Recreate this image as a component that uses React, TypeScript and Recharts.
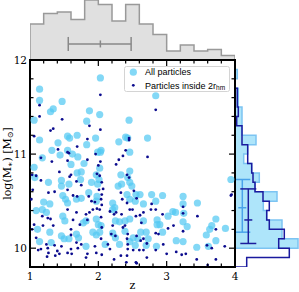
import React from 'react';
import { ComposedChart, ScatterChart, Scatter, Area, XAxis, YAxis, ErrorBar, Legend } from 'recharts';

// ---------- top histogram (redshift) ----------
const zBinStarts = [1.0, 1.2, 1.4, 1.6, 1.8, 2.0, 2.2, 2.4, 2.6, 2.8, 3.0, 3.2, 3.4, 3.6, 3.8];
const zBinCounts = [24, 31, 32, 27, 40, 37, 26, 37, 24, 17, 6, 10, 6, 7, 3];
const zRangeStart = 1.0;
const zRangeEnd = 4.0;
const zErrCenter = [2.03];
const zErrLevel = [10.7];
const zErrLow = [0.47];
const zErrHigh = [0.45];

// ---------- right histogram (stellar mass) ----------
const mBinStarts = [9.8, 9.9, 10.0, 10.1, 10.2, 10.3, 10.4, 10.5, 10.6, 10.7, 10.8, 10.9, 11.0, 11.1, 11.2, 11.3, 11.4, 11.5, 11.6, 11.7, 11.8];
const mAllCounts = [0, 0, 63, 47, 47, 31.7, 28.3, 42, 20, 24.3, 16.7, 8.7, 12.7, 21, 7, 7, 7, 3.3, 3.3, 0, 2.3];
const mInsideCounts = [11.7, 54.3, 43.7, 49.3, 34.3, 31.7, 34.3, 28, 20, 18, 16.7, 12.7, 12.7, 7, 7, 1.7, 3.3, 2.3, 2.3, 0, 0];
const mRangeEnd = 11.9;
const mErrCenter = [10.43, 10.30];
const mErrPos = [7.3, 13.3];
const mErrLow = [0.26, 0.25];
const mErrHigh = [0.30, 0.33];

// ---------- main scatter ----------
const allZ = [2.03, 1.14, 1.14, 1.47, 1.34, 1.30, 1.87, 2.02, 1.06, 1.83, 2.45, 1.55, 1.58, 1.69, 1.14, 1.96, 1.41, 1.83, 2.30, 2.40,
  2.43, 1.32, 1.55, 2.04, 2.03, 1.44, 1.62, 1.70, 1.18, 1.99, 2.46, 2.84, 2.72, 3.94, 2.46, 2.49, 2.55, 2.61, 2.78, 2.94,
  3.24, 2.84, 2.66, 3.24, 3.45, 3.09, 3.13, 3.25, 3.02, 2.66, 2.86, 2.90, 2.86, 3.24, 3.30, 3.72, 3.86, 3.66, 3.63, 2.62,
  2.70, 2.94, 3.58, 2.51, 2.58, 2.73, 3.14, 3.24, 3.72, 2.54, 2.70, 2.85, 3.44, 3.61, 2.54, 1.06, 1.60, 1.79, 1.69, 1.75,
  2.02, 1.97, 2.33, 2.46, 2.43, 1.07, 1.27, 1.46, 1.46, 1.57, 1.74, 1.90, 1.99, 2.01, 2.29, 2.34, 1.86, 1.20, 1.48, 1.52,
  1.68, 1.55, 1.75, 1.98, 1.97, 2.21, 2.24, 2.42, 2.46, 1.18, 1.24, 1.48, 1.51, 1.78, 1.82, 1.97, 2.00, 2.04, 2.21, 2.25,
  2.31, 2.39, 2.46, 1.11, 1.29, 1.46, 1.50, 1.57, 1.68, 1.71, 1.92, 1.97, 2.02, 2.21, 2.25, 2.39, 1.14, 1.31, 1.82, 2.10,
  2.31, 2.46, 1.09, 1.29];
const allM = [11.81, 11.69, 11.57, 11.56, 11.48, 11.45, 11.46, 11.42, 11.36, 11.35, 11.36, 11.19, 11.17, 11.20, 11.15, 11.17, 11.12, 11.10, 11.13, 11.18,
  11.17, 11.04, 11.04, 11.04, 11.02, 10.99, 11.00, 10.97, 10.96, 11.02, 11.02, 11.62, 11.17, 10.73, 10.70, 10.66, 10.57, 10.57, 10.57, 10.56,
  10.55, 10.50, 10.47, 10.47, 10.48, 10.39, 10.38, 10.37, 10.34, 10.29, 10.30, 10.25, 10.25, 10.28, 10.23, 10.31, 10.21, 10.24, 10.20, 10.17,
  10.17, 10.17, 10.14, 10.11, 10.10, 10.10, 10.08, 10.07, 10.08, 10.03, 10.03, 10.02, 10.01, 10.02, 10.50, 10.86, 10.89, 10.90, 10.80, 10.81,
  10.85, 10.78, 10.78, 10.82, 10.75, 10.75, 10.70, 10.72, 10.66, 10.68, 10.73, 10.70, 10.68, 10.73, 10.66, 10.68, 10.59, 10.49, 10.56, 10.52,
  10.52, 10.48, 10.53, 10.55, 10.50, 10.48, 10.43, 10.57, 10.52, 10.41, 10.38, 10.34, 10.29, 10.27, 10.29, 10.31, 10.25, 10.24, 10.41, 10.29,
  10.28, 10.29, 10.31, 10.20, 10.17, 10.13, 10.10, 10.10, 10.15, 10.11, 10.17, 10.14, 10.17, 10.16, 10.11, 10.18, 10.07, 10.06, 10.02, 10.04,
  10.04, 10.07, 10.40, 10.47];

const inZ = [2.03, 1.14, 1.14, 1.47, 1.87, 1.30, 1.34, 2.03, 1.06, 1.84, 2.45, 2.45, 1.69, 1.41, 1.55, 1.57, 2.40, 2.36, 2.30, 1.16,
  1.84, 1.96, 2.03, 1.32, 1.55, 2.84, 2.72, 3.94, 2.52, 3.95, 2.56, 2.78, 2.77, 2.84, 2.50, 3.24, 2.66, 2.94, 2.61, 2.55,
  3.24, 3.45, 2.63, 3.10, 3.02, 3.24, 3.72, 2.84, 2.88, 2.56, 2.66, 2.62, 2.71, 2.95, 3.59, 3.66, 3.85, 2.51, 2.60, 2.66,
  2.84, 3.14, 3.00, 3.22, 3.28, 2.71, 3.44, 3.72, 2.56, 3.60, 1.43, 1.60, 1.58, 2.00, 2.26, 1.03, 1.09, 1.16, 1.68, 1.75,
  1.98, 2.02, 2.05, 2.01, 2.42, 2.45, 2.33, 1.04, 1.27, 1.36, 1.55, 1.63, 1.69, 1.86, 1.90, 1.95, 1.98, 2.02, 2.07, 2.05,
  2.04, 2.05, 2.04, 2.05, 2.04, 2.35, 2.42, 2.46, 1.18, 1.26, 1.30, 1.19, 1.03, 1.34, 1.55, 1.68, 1.63, 1.60, 1.60, 1.73,
  1.82, 1.87, 1.92, 1.84, 2.17, 2.23, 2.26, 2.34, 2.21, 2.19, 2.25, 2.36, 2.39, 2.43, 2.42, 2.43, 2.43, 2.42, 1.09, 1.16,
  1.12, 1.24, 1.26, 1.27, 1.25, 1.36, 1.40, 1.43, 1.46, 1.55, 1.60, 1.61, 1.68, 1.75, 1.70, 1.84, 1.95, 1.97, 2.14, 2.17,
  2.23, 2.33, 1.02, 1.06, 1.37, 1.82, 2.05, 2.41, 2.55];
const inM = [11.63, 11.52, 11.40, 11.37, 11.30, 11.25, 11.27, 11.26, 11.19, 11.16, 11.17, 11.15, 11.08, 11.05, 11.02, 11.01, 11.04, 10.98, 10.94, 10.96,
  10.94, 11.00, 10.92, 10.92, 10.93, 11.47, 10.97, 10.56, 10.61, 10.57, 10.53, 10.47, 10.41, 10.41, 10.41, 10.44, 10.38, 10.36, 10.35, 10.34,
  10.37, 10.34, 10.27, 10.24, 10.21, 10.18, 10.20, 10.16, 10.15, 10.13, 10.10, 10.08, 10.05, 10.04, 10.03, 10.00, 10.02, 9.98, 9.98, 9.98,
  9.98, 9.96, 9.94, 9.93, 9.94, 9.90, 9.88, 9.88, 9.84, 9.82, 10.81, 10.78, 10.76, 10.88, 10.89, 10.78, 10.77, 10.72, 10.71, 10.67,
  10.79, 10.77, 10.70, 10.62, 10.78, 10.75, 10.59, 10.62, 10.59, 10.60, 10.62, 10.56, 10.55, 10.55, 10.50, 10.49, 10.42, 10.41, 10.63, 10.57,
  10.52, 10.46, 10.33, 10.22, 10.10, 10.52, 10.48, 10.41, 10.34, 10.32, 10.31, 10.24, 10.20, 10.24, 10.41, 10.38, 10.30, 10.20, 10.14, 10.25,
  10.36, 10.38, 10.41, 10.30, 10.39, 10.36, 10.38, 10.36, 10.24, 10.15, 10.13, 10.22, 10.24, 10.15, 10.10, 10.04, 9.99, 9.92, 10.11, 9.99,
  9.98, 10.04, 10.00, 9.95, 9.91, 10.03, 9.97, 9.94, 10.02, 9.95, 9.99, 9.94, 10.06, 10.04, 10.00, 9.94, 10.02, 9.95, 10.04, 9.99,
  9.88, 9.92, 10.52, 10.25, 9.92, 9.90, 9.93, 9.85, 9.85];

const xTicks = [1, 1.2, 1.4, 1.6, 1.8, 2, 2.2, 2.4, 2.6, 2.8, 3, 3.2, 3.4, 3.6, 3.8, 4];
const yTicks = [10, 10.2, 10.4, 10.6, 10.8, 11, 11.2, 11.4, 11.6, 11.8, 12];
const xDomain = [1, 4];
const yDomain = [9.8, 12];
const legendLabels = ['All particles', 'Particles inside 2r', 'hm'];

// ---------- derived tables ----------
const topRows = [
  { z: zRangeStart, v: 0 },
  ...zBinStarts.map((z, i) => ({ z, v: zBinCounts[i] })),
  { z: zRangeEnd, v: 0 },
];
const topErrRows = zErrCenter.map((z, i) => ({ z, v: zErrLevel[i], ex: [zErrLow[i], zErrHigh[i]] }));

const rightRows = [
  { m: mBinStarts[0], all: 0, inside: 0 },
  ...mBinStarts.map((m, i) => ({ m, all: mAllCounts[i], inside: mInsideCounts[i] })),
  { m: mRangeEnd, all: 0, inside: 0 },
];
const rightErrAll = [{ m: mErrCenter[0], v: mErrPos[0], err: [mErrLow[0], mErrHigh[0]] }];
const rightErrIn = [{ m: mErrCenter[1], v: mErrPos[1], err: [mErrLow[1], mErrHigh[1]] }];

const allRows = allZ.map((z, i) => ({ z, m: allM[i] }));
const inRows = inZ.map((z, i) => ({ z, m: inM[i] }));

const SERIF = "'DejaVu Serif', serif";
const SANS = "'Liberation Sans', Arial, sans-serif";
const LIGHT = '#53c9f3';
const DARK = '#0b0b8e';

const isMajor = (v: number) => Math.abs(v - Math.round(v)) < 1e-6;

const BottomTick = (p: any) => {
  const v = p.payload.value;
  const maj = isMajor(v);
  return (
    <g>
      <line x1={p.x} x2={p.x} y1={p.y} y2={p.y - (maj ? 6 : 3.5)} stroke="#000" strokeWidth={1.2} />
      {maj && (
        <text x={p.x} y={p.y + 13} textAnchor="middle" fontFamily={SERIF} fontSize={10.5} fill="#000">{v}</text>
      )}
    </g>
  );
};
const TopTick = (p: any) => {
  const maj = isMajor(p.payload.value);
  return <line x1={p.x} x2={p.x} y1={p.y} y2={p.y + (maj ? 6 : 3.5)} stroke="#000" strokeWidth={1.2} />;
};
const LeftTick = (p: any) => {
  const v = p.payload.value;
  const maj = isMajor(v);
  return (
    <g>
      <line x1={p.x} x2={p.x + (maj ? 6 : 3.5)} y1={p.y} y2={p.y} stroke="#000" strokeWidth={1.2} />
      {maj && (
        <text x={p.x - 3} y={p.y + 3.8} textAnchor="end" fontFamily={SERIF} fontSize={10.5} fill="#000">{v}</text>
      )}
    </g>
  );
};
const RightTick = (p: any) => {
  const maj = isMajor(p.payload.value);
  return <line x1={p.x} x2={p.x - (maj ? 6 : 3.5)} y1={p.y} y2={p.y} stroke="#000" strokeWidth={1.2} />;
};

const ZLabel = (p: any) => {
  const vb = p.viewBox;
  return (
    <text x={vb.x + vb.width / 2} y={vb.y + 22} textAnchor="middle" fontFamily={SERIF} fontSize={11} fill="#000">z</text>
  );
};
const MLabel = (p: any) => {
  const vb = p.viewBox;
  const cx = vb.x + 11;
  const cy = vb.y + vb.height / 2;
  return (
    <text x={cx} y={cy} transform={`rotate(-90 ${cx} ${cy})`} textAnchor="middle" fontFamily={SERIF} fontSize={11} fill="#000">
      log(M<tspan fontSize={8} dy={2}>∗</tspan><tspan dy={-2}>) [M</tspan><tspan fontSize={8} dy={2}>⊙</tspan><tspan dy={-2}>]</tspan>
    </text>
  );
};

const LightDot = (p: any) => <circle cx={p.cx} cy={p.cy} r={3.6} fill={LIGHT} fillOpacity={0.72} />;
const DarkDot = (p: any) => <circle cx={p.cx} cy={p.cy} r={1.4} fill={DARK} />;
const VTick = (p: any) => <line x1={p.cx} x2={p.cx} y1={p.cy - 3.5} y2={p.cy + 3.5} stroke="#888" strokeWidth={1.5} />;
const HTickLight = (p: any) => <line x1={p.cx - 4} x2={p.cx + 4} y1={p.cy} y2={p.cy} stroke="#4aa3ea" strokeWidth={1.5} />;
const HTickDark = (p: any) => <line x1={p.cx - 4} x2={p.cx + 4} y1={p.cy} y2={p.cy} stroke="#1c1c9c" strokeWidth={1.5} />;

const LegendBox = () => (
  <svg width={106} height={26} style={{ display: 'block' }}>
    <rect x={0.5} y={0.5} width={105} height={25} rx={2} fill="#fff" fillOpacity={0.85} stroke="#d4d4d4" />
    <circle cx={9.3} cy={6.2} r={3.6} fill={LIGHT} fillOpacity={0.72} />
    <text x={21} y={9.4} fontFamily={SANS} fontSize={9} fill="#000">{legendLabels[0]}</text>
    <circle cx={9.3} cy={19.3} r={1.4} fill={DARK} />
    <text x={21} y={22.5} fontFamily={SANS} fontSize={9} fill="#000">
      {legendLabels[1]}<tspan fontSize={6.5} dy={1.8}>{legendLabels[2]}</tspan>
    </text>
  </svg>
);

const axisStyle = { stroke: '#000', strokeWidth: 2, strokeLinecap: 'square' as const };

export default function App() {
  return (
    <div style={{ position: 'absolute', left: 0, top: 0, width: 299, height: 292, background: '#fff', overflow: 'hidden' }}>
      {/* top marginal histogram */}
      <div style={{ position: 'absolute', left: 0, top: 0 }}>
        <ComposedChart width={299} height={60} data={topRows} margin={{ top: 0, right: 64, bottom: 0, left: 30 }}>
          <XAxis dataKey="z" type="number" domain={xDomain} hide allowDataOverflow />
          <YAxis type="number" domain={[0, 40]} hide allowDataOverflow />
          <Area dataKey="v" type="stepAfter" fill="#e0e0e0" fillOpacity={1} stroke="#999" strokeWidth={1.5}
            dot={false} activeDot={false} isAnimationActive={false} />
          <Scatter data={topErrRows} dataKey="v" shape={VTick} isAnimationActive={false}>
            <ErrorBar dataKey="ex" direction="x" width={7} stroke="#888" strokeWidth={1.5} />
          </Scatter>
        </ComposedChart>
      </div>

      {/* right marginal histogram */}
      <div style={{ position: 'absolute', left: 235, top: 0 }}>
        <ComposedChart layout="vertical" width={64} height={292} data={rightRows} margin={{ top: 60, right: 0, bottom: 25, left: 0 }}>
          <XAxis type="number" domain={[0, 64]} hide allowDataOverflow />
          <YAxis type="number" dataKey="m" domain={yDomain} reversed hide allowDataOverflow />
          <Area dataKey="all" type="stepBefore" fill="#aee5fa" fillOpacity={1} stroke="#7cc4f2" strokeWidth={1.5}
            dot={false} activeDot={false} isAnimationActive={false} />
          <Area dataKey="inside" type="stepBefore" fill="none" fillOpacity={0} stroke="#1a1a9e" strokeWidth={1.5}
            dot={false} activeDot={false} isAnimationActive={false} />
          <Scatter data={rightErrAll} dataKey="v" shape={HTickLight} isAnimationActive={false}>
            <ErrorBar dataKey="err" direction="y" width={8} stroke="#4aa3ea" strokeWidth={1.5} />
          </Scatter>
          <Scatter data={rightErrIn} dataKey="v" shape={HTickDark} isAnimationActive={false}>
            <ErrorBar dataKey="err" direction="y" width={8} stroke="#1c1c9c" strokeWidth={1.5} />
          </Scatter>
        </ComposedChart>
      </div>

      {/* main scatter */}
      <div style={{ position: 'absolute', left: 0, top: 0 }}>
        <ScatterChart width={299} height={292} margin={{ top: 30, right: 34, bottom: 0, left: 0 }}>
          <XAxis xAxisId="b" type="number" dataKey="z" domain={xDomain} ticks={xTicks} interval={0} allowDataOverflow
            tick={BottomTick} tickLine={false} tickSize={0} tickMargin={0} height={25} axisLine={axisStyle} label={ZLabel} />
          <XAxis xAxisId="t" orientation="top" type="number" dataKey="z" domain={xDomain} ticks={xTicks} interval={0} allowDataOverflow
            tick={TopTick} tickLine={false} tickSize={0} tickMargin={0} height={30} axisLine={axisStyle} />
          <YAxis yAxisId="l" type="number" dataKey="m" domain={yDomain} ticks={yTicks} interval={0} allowDataOverflow
            tick={LeftTick} tickLine={false} tickSize={0} tickMargin={0} width={30} axisLine={axisStyle} label={MLabel} />
          <YAxis yAxisId="r" orientation="right" type="number" dataKey="m" domain={yDomain} ticks={yTicks} interval={0} allowDataOverflow
            tick={RightTick} tickLine={false} tickSize={0} tickMargin={0} width={30} axisLine={axisStyle} />
          <Scatter xAxisId="b" yAxisId="l" data={allRows} shape={LightDot} isAnimationActive={false} />
          <Scatter xAxisId="b" yAxisId="l" data={inRows} shape={DarkDot} isAnimationActive={false} />
          <Legend layout="vertical" align="center" verticalAlign="middle" content={LegendBox}
            wrapperStyle={{ left: 124, top: 66, width: 106, height: 26 }} />
        </ScatterChart>
      </div>
    </div>
  );
}
